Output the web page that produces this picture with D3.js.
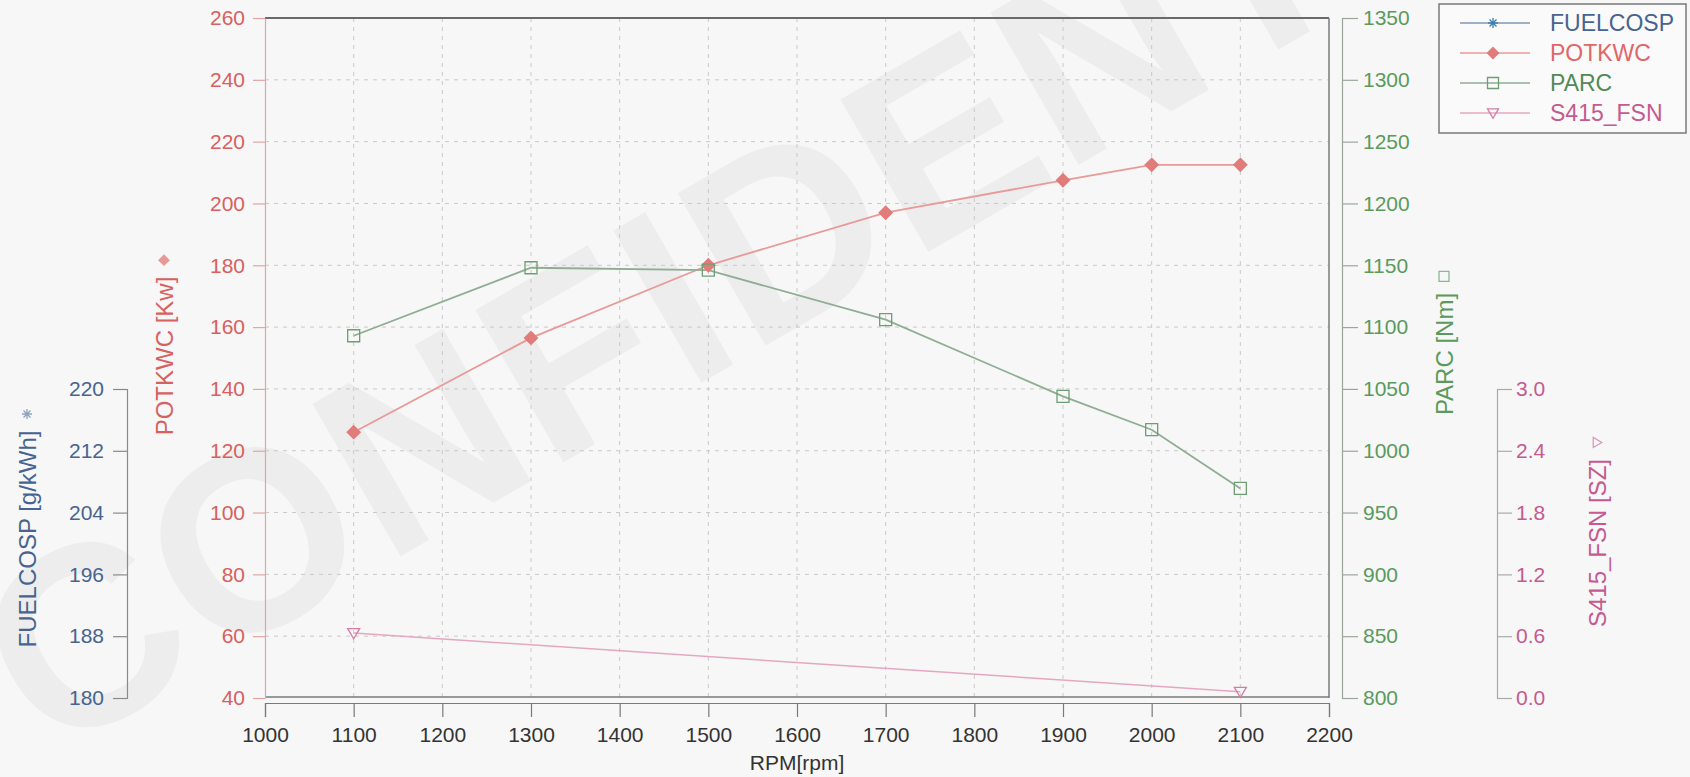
<!DOCTYPE html>
<html><head><meta charset="utf-8">
<script src="https://cdn.jsdelivr.net/npm/d3@7"></script>
<style>
html,body{margin:0;padding:0;background:#f7f7f7;}
svg{display:block;font-family:"Liberation Sans",Arial,sans-serif;}
</style></head><body>
<svg id="chart" width="1690" height="777"></svg>
<script>
// ---- data ----
const rpm = [1100, 1300, 1500, 1700, 1900, 2000, 2100];
const potkwc = [126, 156.5, 180, 197, 207.5, 212.5, 212.5];
const parc = [1093, 1148, 1146, 1106, 1044, 1017, 969.5];
const s415Rpm = [1100, 2100];
const s415 = [0.63, 0.06];
const fuelcosp = []; // no visible points in the range
const xTicks = [1000, 1100, 1200, 1300, 1400, 1500, 1600, 1700, 1800, 1900, 2000, 2100, 2200];
const potTicks = [40, 60, 80, 100, 120, 140, 160, 180, 200, 220, 240, 260];
const parcTicks = [800, 850, 900, 950, 1000, 1050, 1100, 1150, 1200, 1250, 1300, 1350];
const fuelTicks = [180, 188, 196, 204, 212, 220];
const fsnTicks = [0, 0.6, 1.2, 1.8, 2.4, 3.0];
const seriesNames = ["FUELCOSP", "POTKWC", "PARC", "S415_FSN"];

// ---- styles ----
const C = {
  fuelText: "#46648f", fuelLine: "#7e97b3", fuelMark: "#3f7fb0",
  potText: "#d8605e", potLine: "#e89a98", potMark: "#e07c7a", potAxis: "#e2a4a4",
  parcText: "#5a9a5c", parcLine: "#90ad94", parcMark: "#6e9f74", parcAxis: "#9aa69c",
  fsnText: "#c45a90", fsnLine: "#e6a6c2", fsnMark: "#d37ca6", fsnAxis: "#aaaaaa",
  grid: "#c9c9c9", frame: "#6a6a6a", xText: "#333333"
};

const svg = d3.select("#chart");
const L = 265, R = 1329, T = 18, B = 698;

const x = d3.scaleLinear().domain([1000, 2200]).range([L, R]);
const yPot = d3.scaleLinear().domain([40, 260]).range([B, T]);
const yParc = d3.scaleLinear().domain([800, 1350]).range([B, T]);
const yFuel = d3.scaleLinear().domain([180, 220]).range([B, 389]);
const yFsn = d3.scaleLinear().domain([0, 3]).range([B, 389]);

// watermark
svg.append("text")
  .attr("transform", "translate(48,760) rotate(-30)")
  .attr("font-size", 256).attr("font-weight", "bold")
  .attr("letter-spacing", 3)
  .attr("fill", "#000").attr("fill-opacity", 0.04)
  .text("CONFIDENTIAL");

// grid
const grid = svg.append("g").attr("stroke", C.grid).attr("stroke-width", 1).attr("stroke-dasharray", "4,5");
grid.selectAll(".h").data(potTicks.slice(1, -1)).join("line")
  .attr("x1", L).attr("x2", R).attr("y1", d => yPot(d)).attr("y2", d => yPot(d));
grid.selectAll(".v").data(xTicks.slice(1, -1)).join("line")
  .attr("y1", T).attr("y2", B).attr("x1", d => x(d)).attr("x2", d => x(d));

// frame
svg.append("line").attr("x1", L).attr("x2", R).attr("y1", T).attr("y2", T).attr("stroke", C.frame).attr("stroke-width", 2);
svg.append("line").attr("x1", R).attr("x2", R).attr("y1", T).attr("y2", B).attr("stroke", "#7a7a7a").attr("stroke-width", 1.5);
svg.append("line").attr("x1", L).attr("x2", R).attr("y1", B - 1).attr("y2", B - 1).attr("stroke", "#7a7a7a").attr("stroke-width", 1.5);

function styleAxis(g, lineColor, textColor, size) {
  g.selectAll("path.domain").attr("stroke", lineColor).attr("stroke-width", 1.2);
  g.selectAll(".tick line").attr("stroke", lineColor).attr("stroke-width", 1.2);
  g.selectAll(".tick text").attr("fill", textColor).attr("font-size", size);
  g.attr("font-family", null);
}

// x axis
const gx = svg.append("g").attr("transform", `translate(0,${B + 5})`)
  .call(d3.axisBottom(x).tickValues(xTicks).tickFormat(d3.format("d")).tickSize(14).tickPadding(10));
styleAxis(gx, "#7a7a7a", C.xText, 21);

// POTKWC axis
const gPot = svg.append("g").attr("transform", `translate(${L},0)`)
  .call(d3.axisLeft(yPot).tickValues(potTicks).tickFormat(d3.format("d")).tickSize(12).tickPadding(8).tickSizeOuter(0));
styleAxis(gPot, C.potAxis, C.potText, 21);

// FUELCOSP axis
const gFuel = svg.append("g").attr("transform", "translate(127,0)")
  .call(d3.axisLeft(yFuel).tickValues(fuelTicks).tickFormat(d3.format("d")).tickSize(14).tickPadding(9));
styleAxis(gFuel, "#8a8a8a", C.fuelText, 21);

// PARC axis
const gParc = svg.append("g").attr("transform", "translate(1342,0)")
  .call(d3.axisRight(yParc).tickValues(parcTicks).tickFormat(d3.format("d")).tickSize(16).tickPadding(5));
styleAxis(gParc, C.parcAxis, C.parcText, 21);

// S415 axis
const gFsn = svg.append("g").attr("transform", "translate(1497,0)")
  .call(d3.axisRight(yFsn).tickValues(fsnTicks).tickFormat(d3.format(".1f")).tickSize(15).tickPadding(4));
styleAxis(gFsn, C.fsnAxis, C.fsnText, 21);

// symbols
const sym = {
  asterisk: r => `M0,${-r}V${r}M${-r},0H${r}M${-r*0.7},${-r*0.7}L${r*0.7},${r*0.7}M${-r*0.7},${r*0.7}L${r*0.7},${-r*0.7}`,
  diamond: r => `M0,${-r}L${r},0L0,${r}L${-r},0Z`,
  square: r => `M${-r},${-r}H${r}V${r}H${-r}Z`,
  triDown: r => `M${-r},${-r*0.75}H${r}L0,${r*0.95}Z`
};
function drawSym(g, type, r, color, filled) {
  return g.append("path").attr("d", sym[type](r))
    .attr("fill", filled ? color : "none").attr("stroke", color).attr("stroke-width", 1.3);
}

// lines
const line = d3.line();
svg.append("path").attr("d", line(rpm.map((d, i) => [x(d), yPot(potkwc[i])])))
  .attr("fill", "none").attr("stroke", C.potLine).attr("stroke-width", 1.8);
svg.append("path").attr("d", line(rpm.map((d, i) => [x(d), yParc(parc[i])])))
  .attr("fill", "none").attr("stroke", C.parcLine).attr("stroke-width", 1.8);
svg.append("path").attr("d", line(s415Rpm.map((d, i) => [x(d), yFsn(s415[i])])))
  .attr("fill", "none").attr("stroke", C.fsnLine).attr("stroke-width", 1.5);
if (fuelcosp.length) {
  svg.append("path").attr("d", line(fuelcosp.map(d => [x(d[0]), yFuel(d[1])])))
    .attr("fill", "none").attr("stroke", C.fuelLine).attr("stroke-width", 1.5);
}

rpm.forEach((d, i) => {
  const g = svg.append("g").attr("transform", `translate(${x(d)},${yPot(potkwc[i])})`);
  drawSym(g, "diamond", 6.5, C.potMark, true);
});
rpm.forEach((d, i) => {
  const g = svg.append("g").attr("transform", `translate(${x(d)},${yParc(parc[i])})`);
  drawSym(g, "square", 6, C.parcMark, false);
});
s415Rpm.forEach((d, i) => {
  const g = svg.append("g").attr("transform", `translate(${x(d)},${yFsn(s415[i])})`);
  drawSym(g, "triDown", 6, C.fsnMark, false);
});

// axis titles
svg.append("text").attr("x", 797).attr("y", 762).attr("text-anchor", "middle")
  .attr("dominant-baseline", "central").attr("font-size", 21).attr("fill", C.xText).text("RPM[rpm]");

function rotTitle(cx, cy, label, color, type, symColor, filled) {
  const g = svg.append("g").attr("transform", `translate(${cx},${cy}) rotate(-90)`);
  const t = g.append("text").attr("font-size", 24).attr("fill", color)
    .attr("dominant-baseline", "central").text(label);
  const len = t.node().getComputedTextLength();
  const gap = 11, s = 11, total = len + gap + s;
  t.attr("x", -total / 2);
  const sg = g.append("g").attr("transform", `translate(${-total / 2 + len + gap + s / 2},0)`);
  drawSym(sg, type, 5, symColor, filled);
}
rotTitle(164, 345, "POTKWC [Kw]", C.potText, "diamond", "#e59a98", true);
rotTitle(27, 528, "FUELCOSP [g/kWh]", C.fuelText, "asterisk", "#8fa3c0", false);
rotTitle(1444, 343, "PARC [Nm]", C.parcText, "square", "#8fb595", false);
rotTitle(1597, 532, "S415_FSN [SZ]", C.fsnText, "triDown", "#d99ab8", false);

// legend
const lg = svg.append("g");
lg.append("rect").attr("x", 1439).attr("y", 4).attr("width", 247).attr("height", 129)
  .attr("fill", "#fafafa").attr("stroke", "#7a7a7a").attr("stroke-width", 1.5);
const legendStyle = [
  { text: C.fuelText, line: C.fuelLine, mark: C.fuelMark, type: "asterisk", filled: false, r: 5 },
  { text: "#e06668", line: C.potLine, mark: C.potMark, type: "diamond", filled: true, r: 5.5 },
  { text: "#4f8a58", line: C.parcLine, mark: C.parcMark, type: "square", filled: false, r: 5.5 },
  { text: C.fsnText, line: C.fsnLine, mark: C.fsnMark, type: "triDown", filled: false, r: 5.5 }
];
seriesNames.forEach((name, i) => {
  const st = legendStyle[i];
  const yy = 23 + i * 30;
  lg.append("line").attr("x1", 1460).attr("x2", 1530).attr("y1", yy).attr("y2", yy)
    .attr("stroke", st.line).attr("stroke-width", 1.5);
  const g = lg.append("g").attr("transform", `translate(1493,${yy})`);
  drawSym(g, st.type, st.r, st.mark, st.filled);
  lg.append("text").attr("x", 1550).attr("y", yy).attr("dominant-baseline", "central")
    .attr("font-size", 23).attr("fill", st.text).text(name);
});
</script>
</body></html>
